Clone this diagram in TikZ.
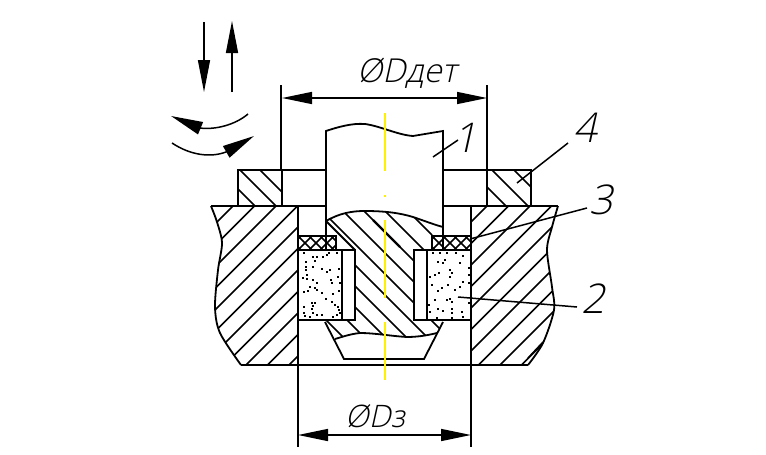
\documentclass[tikz,border=0pt]{standalone}
\usepackage{fontspec}
\usetikzlibrary{arrows.meta}
\newfontfamily\lbl{Open Sans}[UprightFont=* Light,UprightFeatures={FakeSlant=0.22}]
\tikzset{
  main/.style={line width=1.8pt,line join=miter},
  hatch/.style={line width=1.5pt},
  thinl/.style={line width=1.5pt},
  dimen/.style={line width=1.5pt,{Triangle[length=30pt,width=12pt]}-{Triangle[length=30pt,width=12pt]}},
  onehead/.style={line width=1.5pt,-{Triangle[length=32pt,width=12pt]}},
  axisl/.style={yellow,line width=2.4pt},
  txt/.style={inner sep=0pt,anchor=base west,font=\lbl\fontsize{33}{33}\selectfont},
  digit/.style={inner sep=0pt,anchor=base west,font=\lbl\fontsize{41}{41}\selectfont},
}
\begin{document}
\begin{tikzpicture}[x=1pt,y=-1pt]
\useasboundingbox (0,0) rectangle (766,455);
% hatching of the body
\begin{scope}
\clip plot[smooth] coordinates {(211,206)(217,222)(222,243)(218,270)(215,307)(220,333)(241,365)} -- (298,365) -- (298,206) -- cycle;
\foreach \c in {439,460.5,482,503.5,525,546.5,568,589.5,611,632.5,654}
  \draw[hatch] ({\c-150},150) -- ({\c-400},400);
\end{scope}
\begin{scope}
\clip plot[smooth] coordinates {(558,206)(552,227)(547,250)(552,287)(554,310)(543,343)(528,365)} -- (471,365) -- (471,206) -- cycle;
\foreach \c in {693,714.5,736,757.5,779,800.5,822,843.5,865,886.5}
  \draw[hatch] ({\c-150},150) -- ({\c-400},400);
\end{scope}
\draw[hatch] (528,358) -- (543,342);
% ring
\begin{scope}
\clip (238,170) rectangle (282,206);
\foreach \c in {-49,-70,-90}
  \draw[hatch] ({100-\c},100) -- ({300-\c},300);
\end{scope}
\begin{scope}
\clip (487,170) rectangle (531,206);
\foreach \c in {-300,-322,-344}
  \draw[hatch] ({100-\c},100) -- ({300-\c},300);
\end{scope}
% hatching of the shaft
\begin{scope}
\clip (326,221) .. controls (340,213) and (352,211) .. (365,211) .. controls (385,211) and (400,213) .. (413,217) .. controls (425,221) and (435,225) .. (443,227)
  -- (432,235) -- (432,250) -- (414,250) -- (414,320) -- (443,320) -- (443,322) -- (437,333)
  .. controls (425,336) and (415,337) .. (407,337) .. controls (390,336) and (375,333) .. (360,333) .. controls (350,334) and (342,337) .. (335,339)
  -- (325,322) -- (325,320) -- (355,320) -- (355,250) -- cycle;
\foreach \c in {-6,-27,-48,-69,-90,-111,-132,-153,-174,-197}
  \draw[hatch] ({200-\c},200) -- ({350-\c},350);
\end{scope}
\draw[line width=2.4pt] (373,220) -- (400,247);
% outlines
\draw[main] plot[smooth] coordinates {(211,206)(217,222)(222,243)(218,270)(215,307)(220,333)(241,365)};
\draw[main] plot[smooth] coordinates {(558,206)(552,227)(547,250)(552,287)(554,310)(543,343)(528,365)};
\draw[main] (211,206) -- (326,206) (443,206) -- (558,206);
\draw[main] (238,206) -- (238,170) -- (326,170) (443,170) -- (531,170) -- (531,206);
\draw[main] (282,170) -- (282,206);
\draw[main] (241,365) -- (528,365);
% shaft
\draw[main] (326,250) -- (326,131) .. controls (338,127) and (352,123) .. (365,124) .. controls (380,126) and (398,135) .. (413,136) -- (443,131) -- (443,250);
\draw[main] (326,221) .. controls (340,213) and (352,211) .. (365,211) .. controls (385,211) and (400,213) .. (413,217) .. controls (425,221) and (435,225) .. (443,227);
\draw[main] (326,221) -- (355,250);
% seal
\foreach \l/\r in {298/336,432/471}{
  \begin{scope}
  \clip (\l,236) rectangle (\r,250);
  \foreach \k in {-2,...,5}{
    \draw[thinl] ({\l+11*\k},236) -- ({\l+14+11*\k},250);
    \draw[thinl] ({\l+14+11*\k},236) -- ({\l+11*\k},250);
  }
  \end{scope}
  \draw[main] (\l,250) -- (\l,236) -- (\r,236) -- (\r,250);
}
% abrasive and sleeves
\draw[main] (298,250) rectangle (355,320);
\draw[main] (342,250) -- (342,320);
\draw[main] (414,250) rectangle (471,320);
\draw[main] (427,250) -- (427,320);
% lower recess
\draw[main] (325,322) -- (344,359) -- (424,359) -- (443,322);
\draw[main] (335,339) .. controls (342,337) and (350,334) .. (360,333) .. controls (375,333) and (390,336) .. (407,337) .. controls (415,337) and (425,336) .. (437,333);
% stipple
\foreach \x/\y in {312/100,340/110,350/112,368/110,380/105,388/100,410/100,345/122,317/125,318/140,318/150,340/140,365/148,380/155,390/150,418/148,320/165,310/175,322/178,338/180,392/180,395/190,415/172,420/190,350/190,330/200,345/205,352/210,312/217,325/212,365/218,398/222,418/212,378/238,335/250,345/248,340/258,395/245,405/255,415/262,312/262,335/268,340/280,350/285,365/285,312/278,330/290,418/270,412/285,420/280,315/288,400/290}
  \fill ({200+\x/3-1},{220+\y/3-1}) rectangle ++(2,2);
\foreach \x/\y in {150/170,165/165,178/158,195/120,190/130,175/125,210/150,215/160,210/170,240/130,228/100,250/108,268/145,268/165,155/195,250/185,240/200,205/195,185/205,175/212,225/210,165/240,200/240,210/238,215/245,148/255,150/275,175/268,190/272,215/268,215/280,245/275,250/292,170/295,215/295,268/190,268/250,200/100,160/100,180/98,140/295}
  \fill ({380+\x/3-1},{220+\y/3-1}) rectangle ++(2,2);
% extension lines
\draw[thinl] (281,85) -- (281,170);
\draw[thinl] (487,85) -- (487,206);
\draw[main] (298,206) -- (298,447);
\draw[main] (471,206) -- (471,447);
% dimensions
\coordinate (dtl) at (282,98);
\coordinate (dtr) at (487,98);
\coordinate (dbl) at (298,435);
\coordinate (dbr) at (471,435);
\draw[dimen] (dtl) -- (dtr);
\draw[dimen] (dbl) -- (dbr);
% motion arrows
\coordinate (da) at (204,22); \coordinate (db) at (204,92);
\coordinate (ua) at (232,92); \coordinate (ub) at (232,21);
\draw[onehead] (da) -- (db);
\draw[onehead] (ua) -- (ub);
\coordinate (ca) at (248,114); \coordinate (cb) at (171,116);
\coordinate (cc) at (172,143); \coordinate (cd) at (254,136);
\draw[line width=1.5pt,-{Triangle[length=32pt,width=13pt]}] (ca) .. controls (235,125) and (215,130) .. (200,128) -- (cb);
\draw[line width=1.5pt,-{Triangle[length=32pt,width=13pt]}] (cc) .. controls (190,155) and (210,158) .. (226,152) -- (cd);
% axis
\draw[axisl] (384.7,113) -- (384.7,171);
\draw[axisl] (384.7,195) -- (384.7,197);
\draw[axisl] (384.7,220) -- (384.7,298);
\draw[axisl] (384.7,322) -- (384.7,380);
% labels
\node[txt] (dimtop) at (357,82) {ØDдет};
\node[txt,font=\lbl\fontsize{31}{31}\selectfont] (dimbot) at (345,427) {ØDз};
\node[digit] (n1) at (453,152) {1};
\node[digit] (n2) at (581,313) {2};
\node[digit] (n3) at (589,214) {3};
\node[digit] (n4) at (573,142) {4};
% leaders
\coordinate (l1) at (433,157); \coordinate (l1e) at (458,140);
\coordinate (l2) at (458,297); \coordinate (l2e) at (577,307);
\coordinate (l3) at (470,239); \coordinate (l3e) at (587,208);
\coordinate (l4) at (517,183); \coordinate (l4e) at (568,143);
\draw[thinl] (l1) -- (l1e);
\draw[thinl] (l2) -- (l2e);
\draw[thinl] (l3) -- (l3e);
\draw[thinl] (l4) -- (l4e);
\end{tikzpicture}
\end{document}
